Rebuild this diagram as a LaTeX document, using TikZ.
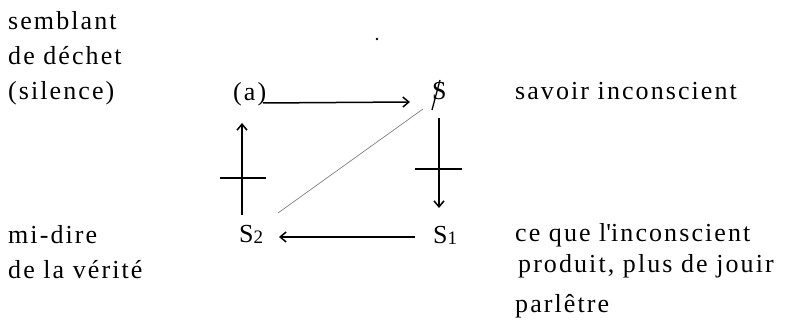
\documentclass[tikz,border=0pt]{standalone}
\usepackage{fontspec}
\setmainfont[LetterSpace=8]{Liberation Serif}
\usetikzlibrary{arrows.meta,calc}
\begin{document}
\begin{tikzpicture}[x=1pt,y=-1pt,
  lbl/.style={anchor=base west,inner sep=0pt,font=\fontsize{26}{30}\selectfont},
  sym/.style={anchor=base west,inner sep=0pt,font=\fontsize{26}{30}\selectfont},
  arr/.style={line width=1.5pt,-{Straight Barb[length=6pt,width=10pt,line width=1.5pt]}},
  bar/.style={line width=1.5pt},
  diag/.style={gray,line width=0.7pt}]
\useasboundingbox (0,0) rectangle (788,320);
% left texts
\node[lbl] (t1) at (8,30) {semblant};
\node[lbl] (t2) at (8,65) {de déchet};
\node[lbl] (t3) at (8,100) {(silence)};
\node[lbl] (t4) at (8,244) {mi-dire};
\node[lbl] (t5) at (8,279) {de la vérité};
% right texts
\node[lbl] (r1) at (515,100) {savoir inconscient};
\node[lbl] (r2) at (515,242) {ce que l\textquotesingle inconscient};
\node[lbl] (r3) at (518,273) {produit, plus de jouir};
\node[lbl] (r4) at (515,313) {parlêtre};
% dot
\node[circle,fill,inner sep=0.9pt] (dot) at (377,39) {};
% symbols
\node[sym] (a) at (233,101) {(a)};
\node[sym] (bs) at (432,100) {S};
\node[sym] (s2) at (239,243) {S{\fontsize{19}{19}\selectfont\raisebox{-1pt}{2}}};
\node[sym] (s1) at (433,244) {S{\fontsize{19}{19}\selectfont\raisebox{-1pt}{1}}};
% slash through S
\draw[line width=1.3pt] ($(bs.base west)+(0,10)$) -- ($(bs.base west)+(8,-20)$);
% arrows
\draw[arr] ($(a.base west)+(30,2)$) -- ($(bs.base west)+(-22,2)$);
\draw[arr] ($(s1.base west)+(-18,-7)$) -- ($(s2.base west)+(40,-6)$);
\draw[arr] ($(s2.base west)+(3,-28)$) -- ($(a.base west)+(9,22)$);
\draw[bar] ($(s2.base west)+(-19,-65)$) -- ++(46,0);
\draw[arr] ($(bs.base west)+(7,18)$) -- ($(s1.base west)+(6,-36)$);
\draw[bar] ($(bs.base west)+(-17,69)$) -- ++(47,0);
% diagonal
\draw[diag] ($(bs.base west)+(-9,9)$) -- ($(s2.base west)+(39,-30)$);
\end{tikzpicture}
\end{document}
